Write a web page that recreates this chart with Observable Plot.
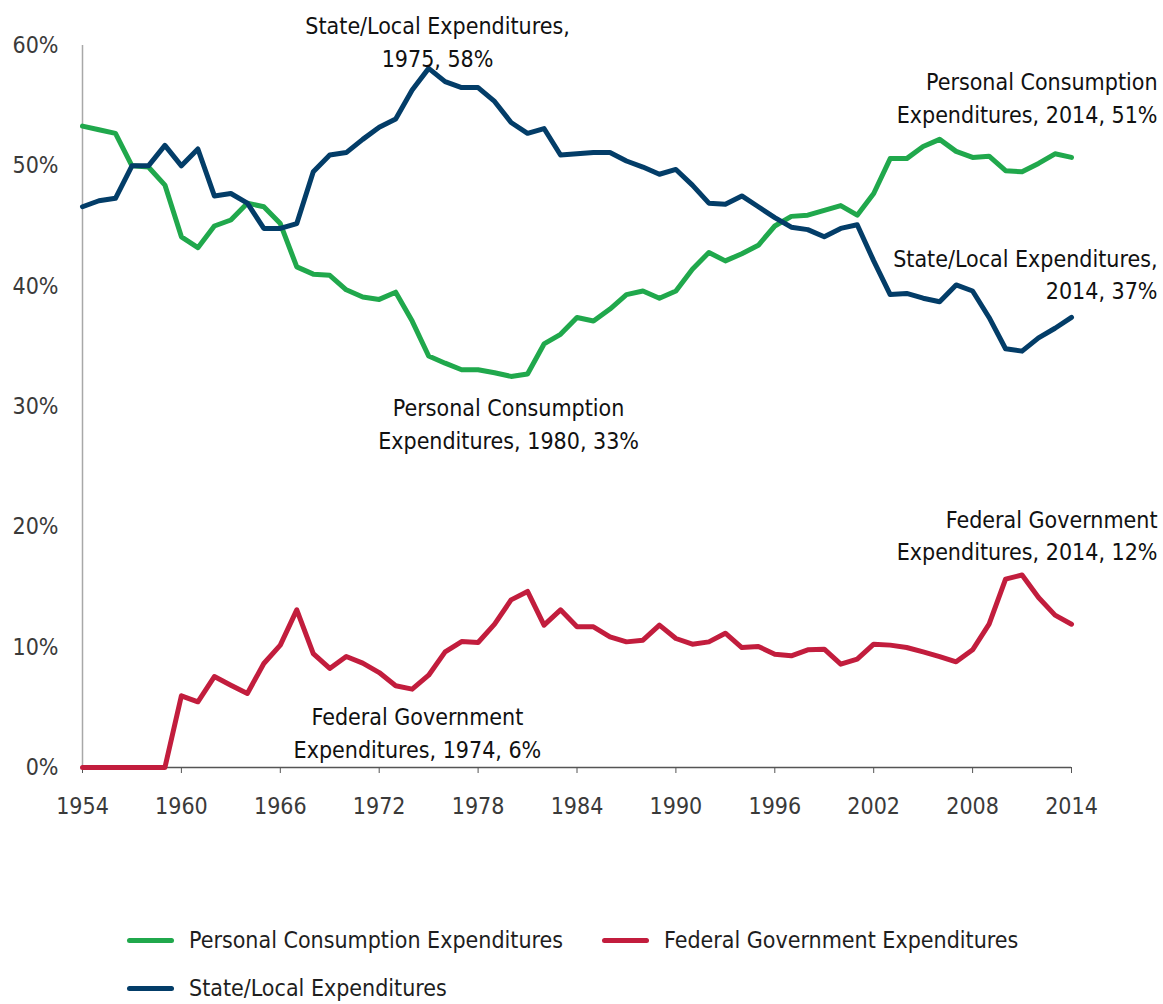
<!DOCTYPE html>
<html>
<head>
<meta charset="utf-8">
<script src="https://cdn.jsdelivr.net/npm/d3@7"></script>
<script src="https://cdn.jsdelivr.net/npm/@observablehq/plot@0.6"></script>
<style>
  body { margin: 0; background: #fff; }
  #wrap { position: relative; width: 1163px; height: 1004px; font-family: "DejaVu Sans Condensed", "Liberation Sans Narrow", sans-serif; }
  #chart { position: absolute; left: 0; top: 0; }
  .legend { position: absolute; left: 127px; top: 924px; display: grid; grid-template-columns: 475px 460px; row-gap: 16px; font-size: 23px; color: #1e1e1e; }
  .item { display: flex; align-items: center; height: 32px; white-space: nowrap; }
  .sw { flex: 0 0 47px; width: 47px; height: 5px; border-radius: 3px; margin-right: 15px; }
</style>
</head>
<body>
<div id="wrap">
  <div id="chart"></div>
  <div class="legend" id="legend"></div>
</div>
<script>
const years = [1954,1955,1956,1957,1958,1959,1960,1961,1962,1963,
  1964,1965,1966,1967,1968,1969,1970,1971,1972,1973,
  1974,1975,1976,1977,1978,1979,1980,1981,1982,1983,
  1984,1985,1986,1987,1988,1989,1990,1991,1992,1993,
  1994,1995,1996,1997,1998,1999,2000,2001,2002,2003,
  2004,2005,2006,2007,2008,2009,2010,2011,2012,2013,
  2014];

const personal = [53.3,53.0,52.7,50.0,49.9,48.4,44.1,43.2,45.0,45.5,
  46.9,46.6,45.2,41.6,41.0,40.9,39.7,39.1,38.9,39.5,
  37.1,34.2,33.6,33.05,33.05,32.8,32.5,32.7,35.2,36.0,
  37.4,37.1,38.1,39.3,39.6,39.0,39.6,41.4,42.8,42.1,
  42.7,43.4,45.0,45.8,45.9,46.3,46.7,45.9,47.7,50.6,
  50.6,51.6,52.2,51.2,50.7,50.8,49.6,49.5,50.2,51.0,
  50.7];

const stateLocal = [46.6,47.1,47.3,50.0,50.0,51.7,50.0,51.4,47.5,47.7,
  46.9,44.8,44.8,45.2,49.5,50.9,51.1,52.2,53.2,53.9,
  56.3,58.1,57.0,56.5,56.5,55.35,53.6,52.7,53.1,50.9,
  51.0,51.1,51.1,50.4,49.9,49.3,49.7,48.4,46.9,46.8,
  47.5,46.6,45.7,44.9,44.7,44.1,44.8,45.1,42.1,39.3,
  39.4,39.0,38.7,40.1,39.6,37.4,34.8,34.6,35.7,36.5,
  37.4];

const federal = [0,0,0,0,0,0,5.96,5.46,7.56,6.84,
  6.15,8.64,10.17,13.1,9.47,8.23,9.22,8.67,7.89,6.79,
  6.51,7.67,9.61,10.47,10.39,11.91,13.93,14.63,11.83,13.1,
  11.69,11.69,10.86,10.44,10.58,11.83,10.72,10.25,10.44,11.16,
  9.97,10.06,9.42,9.28,9.78,9.83,8.59,9.0,10.25,10.17,
  9.97,9.61,9.22,8.78,9.78,11.91,15.65,16.0,14.13,12.66,
  11.91];

const seriesNames = ["Personal Consumption Expenditures", "Federal Government Expenditures", "State/Local Expenditures"];
const seriesColors = ["#20a84c", "#c21d3d", "#033d68"];

const xTicks = [1954,1960,1966,1972,1978,1984,1990,1996,2002,2008,2014];
const yTicks = [0,10,20,30,40,50,60];

// annotation labels (anchored in data units)
const annoText = [
  "State/Local Expenditures,\n1975, 58%",
  "Personal Consumption\nExpenditures, 2014, 51%",
  "State/Local Expenditures,\n2014, 37%",
  "Personal Consumption\nExpenditures, 1980, 33%",
  "Federal Government\nExpenditures, 2014, 12%",
  "Federal Government\nExpenditures, 1974, 6%"
];
const annoYear = [1975.54, 2019.22, 2019.22, 1979.85, 2019.22, 1974.32];
const annoValue = [60.46, 55.8, 41.14, 28.71, 19.45, 3.03];
const annoAlign = ["middle", "end", "end", "middle", "end", "middle"];

const series = [personal, federal, stateLocal];
const rows = [];
series.forEach((vals, si) => {
  vals.forEach((v, i) => rows.push({year: years[i], value: v, series: seriesNames[si]}));
});
const annos = annoText.map((t, i) => ({text: t, year: annoYear[i], value: annoValue[i], align: annoAlign[i]}));

const FONT = '"DejaVu Sans Condensed", "Liberation Sans Narrow", sans-serif';
const FS = 23;

const chart = Plot.plot({
  width: 1163,
  height: 900,
  marginLeft: 82,
  marginRight: 92,
  marginTop: 45,
  marginBottom: 133,
  x: {domain: [1954, 2014]},
  y: {domain: [0, 60]},
  style: {fontFamily: FONT, fontSize: FS + "px", background: "#fff", overflow: "visible"},
  marks: [
    Plot.axisY({ticks: yTicks, tickSize: 0, tickPadding: 24, tickFormat: d => d + "%", fontSize: FS, fill: "#3a3a3a", label: null}),
    Plot.axisX({ticks: xTicks, tickSize: 6, tickPadding: 24, tickFormat: d => String(d), fontSize: FS, fill: "#3a3a3a", stroke: "#555", label: null}),
    Plot.ruleX([1954], {stroke: "#a8a8a8", strokeWidth: 1.5}),
    Plot.ruleY([0], {stroke: "#555", strokeWidth: 1.5}),
    Plot.lineY(rows.filter(d => d.series === seriesNames[0]), {x: "year", y: "value", stroke: seriesColors[0], strokeWidth: 5}),
    Plot.lineY(rows.filter(d => d.series === seriesNames[2]), {x: "year", y: "value", stroke: seriesColors[2], strokeWidth: 5}),
    Plot.lineY(rows.filter(d => d.series === seriesNames[1]), {x: "year", y: "value", stroke: seriesColors[1], strokeWidth: 5}),
    Plot.text(annos.filter(d => d.align === "middle"), {x: "year", y: "value", text: "text", textAnchor: "middle", lineAnchor: "middle", lineHeight: 1.42, fontSize: FS, fill: "#111"}),
    Plot.text(annos.filter(d => d.align === "end"), {x: "year", y: "value", text: "text", textAnchor: "end", lineAnchor: "middle", lineHeight: 1.42, fontSize: FS, fill: "#111"})
  ]
});
document.getElementById("chart").appendChild(chart);

const legendOrder = [0, 1, 2];
const legend = document.getElementById("legend");
legendOrder.forEach(i => {
  const item = document.createElement("div");
  item.className = "item";
  const sw = document.createElement("span");
  sw.className = "sw";
  sw.style.background = seriesColors[i];
  const lab = document.createElement("span");
  lab.textContent = seriesNames[i];
  item.appendChild(sw);
  item.appendChild(lab);
  legend.appendChild(item);
});
</script>
</body>
</html>
